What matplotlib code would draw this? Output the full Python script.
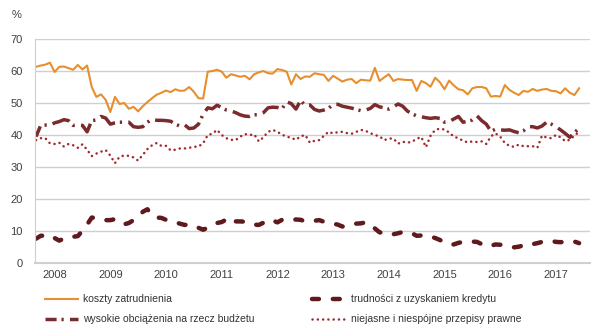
import matplotlib
matplotlib.use("Agg")
from matplotlib import pyplot as plt
import numpy as np

plt.rcParams['font.family'] = ['Liberation Sans', 'DejaVu Sans']
plt.rcParams['lines.scale_dashes'] = False

# monthly survey shares (%), first month of 2008 onwards
years = ['2008', '2009', '2010', '2011', '2012', '2013', '2014', '2015', '2016', '2017']

koszty = [61.3, 61.7, 62.0, 62.6, 59.7, 61.3, 61.4, 60.9, 60.4, 61.9, 60.5, 61.7,
          55.0, 51.9, 52.7, 51.0, 47.2, 51.9, 49.7, 50.0, 48.2, 48.8, 47.4, 49.0,
          50.3, 51.5, 52.6, 53.2, 53.9, 53.4, 54.3, 53.8, 53.9, 55.0, 53.5, 51.5,
          51.4, 59.8, 60.0, 60.4, 59.8, 57.9, 59.0, 58.6, 58.2, 58.5, 57.4, 59.0,
          59.6, 60.0, 59.3, 59.2, 60.6, 60.3, 59.8, 55.8, 59.0, 57.5, 58.3, 58.2,
          59.3, 59.0, 58.8, 56.9, 58.5, 57.6, 56.7, 57.3, 57.5, 56.2, 57.3, 57.1,
          57.0, 61.0, 56.9, 58.0, 59.0, 56.9, 57.5, 57.3, 57.2, 57.2, 53.8, 56.9,
          56.2, 55.1, 57.9, 56.5, 54.3, 57.0, 55.5, 54.3, 54.0, 52.7, 54.6, 55.0,
          55.0, 54.6, 52.0, 52.2, 52.0, 55.6, 54.1, 53.2, 52.5, 53.8, 53.5, 54.4,
          53.8, 54.2, 54.4, 53.8, 53.7, 53.0, 54.6, 53.2, 52.5, 54.6]

obciazenia = [39.5, 43.0, 43.1, 43.0, 43.8, 44.2, 44.8, 44.5, 43.0, 43.1, 43.0, 41.0,
              44.5, 44.7, 45.8, 45.3, 43.4, 43.8, 44.0, 44.0, 44.0, 42.6, 42.4, 42.6,
              44.0, 44.9, 44.6, 44.6, 44.5, 44.3, 43.4, 42.8, 43.2, 42.0, 42.2, 43.4,
              46.5, 48.5, 48.2, 49.3, 48.6, 47.8, 47.5, 47.0, 46.3, 45.9, 45.8, 46.3,
              46.4, 47.0, 48.5, 48.7, 48.6, 48.2, 50.4, 49.8, 48.1, 50.8, 49.2, 49.4,
              48.0, 47.5, 47.8, 48.3, 49.6, 49.6, 49.0, 48.7, 48.4, 48.0, 47.6, 47.8,
              48.3, 49.5, 48.8, 48.5, 48.1, 48.8, 49.7, 49.0, 47.5, 46.6, 46.0, 45.7,
              45.4, 45.2, 45.4, 45.2, 44.0, 44.2, 45.0, 45.8, 44.0, 44.3, 44.7, 46.0,
              44.5, 43.4, 41.2, 41.8, 41.6, 41.5, 41.6, 41.1, 40.7, 41.3, 42.6, 42.6,
              42.2, 42.8, 44.0, 43.4, 42.6, 41.6, 40.5, 39.3, 40.8, 42.1]

kredyt = [7.6, 8.5, 8.6, 7.6, 7.8, 7.0, 7.6, 8.2, 8.2, 8.4, 10.1, 12.0,
          14.2, 14.1, 13.6, 13.4, 13.4, 13.7, 13.2, 12.1, 12.5, 13.4, 14.5, 16.0,
          16.8, 14.8, 14.2, 14.1, 13.5, 13.1, 12.7, 12.3, 11.9, 12.0, 11.8, 11.0,
          10.4, 11.0, 11.9, 12.5, 12.8, 13.6, 14.2, 13.0, 13.0, 12.9, 12.6, 12.0,
          11.9, 12.6, 13.5, 13.3, 12.7, 13.5, 13.6, 13.4, 13.6, 13.5, 13.0, 13.1,
          13.2, 13.4, 12.9, 12.5, 12.3, 12.0, 11.4, 11.6, 12.1, 12.3, 12.4, 12.7,
          12.2, 10.8, 9.6, 9.3, 9.5, 9.0, 9.3, 9.7, 9.7, 9.3, 8.5, 8.6,
          8.7, 8.3, 7.8, 7.2, 6.5, 5.8, 5.8, 6.3, 6.6, 6.7, 6.7, 6.6,
          5.9, 5.2, 5.4, 5.8, 5.7, 5.6, 5.2, 4.9, 5.1, 5.5, 6.1, 5.9,
          6.2, 6.6, 6.8, 6.9, 6.6, 6.5, 6.7, 6.9, 6.7, 6.2]

przepisy = [38.4, 39.0, 39.0, 37.4, 37.2, 37.6, 36.4, 37.2, 36.8, 36.0, 37.1, 35.4,
            33.4, 34.2, 34.8, 35.3, 33.6, 31.2, 33.2, 33.6, 33.5, 33.0, 32.0, 33.8,
            35.6, 36.8, 37.5, 36.6, 36.6, 35.2, 35.4, 35.8, 35.8, 36.0, 36.3, 36.4,
            37.4, 40.0, 40.4, 41.6, 40.0, 39.0, 38.5, 38.4, 39.5, 40.3, 40.0, 40.2,
            38.0, 39.3, 41.0, 41.6, 41.0, 40.1, 39.5, 39.1, 38.5, 39.6, 40.0, 37.6,
            38.2, 38.4, 39.7, 41.0, 40.5, 40.9, 41.0, 40.6, 40.4, 41.0, 41.6, 41.3,
            40.6, 40.0, 39.6, 38.4, 38.9, 38.9, 37.3, 37.9, 37.6, 37.9, 38.8, 39.4,
            36.2, 39.8, 41.6, 42.0, 41.7, 40.8, 39.5, 39.0, 38.2, 37.7, 38.0, 37.8,
            38.0, 37.2, 39.6, 40.5, 39.5, 37.5, 36.6, 36.3, 37.0, 36.5, 36.5, 36.5,
            36.0, 39.8, 39.2, 39.0, 40.0, 39.3, 38.1, 38.5, 39.8, 41.0]

labels = ['koszty zatrudnienia', 'wysokie obciążenia na rzecz budżetu',
          'trudności z uzyskaniem kredytu', 'niejasne i niespójne przepisy prawne']

x = np.arange(len(koszty))

fig = plt.figure(figsize=(5.95, 3.29), dpi=100)
ax = fig.add_axes([0.059, 0.2006, 0.933, 0.6808])

l1, = ax.plot(x, koszty, color='#E68F2E', lw=1.5, solid_joinstyle='round')
l2, = ax.plot(x, obciazenia, color='#7B2B2E', lw=2.5,
              linestyle=(5, (13, 3.5, 1.6, 4.5)), dash_capstyle='butt')
l3, = ax.plot(x, kredyt, color='#5E1A1D', lw=3.2,
              linestyle=(0, (5, 10)), dash_capstyle='round')
l4, = ax.plot(x, przepisy, color='#A3282C', lw=1.8,
              linestyle=(0, (0.1, 3.7)), dash_capstyle='round')

ax.set_ylim(0, 70)
ax.set_xlim(-0.2, 119.4)
ax.set_yticks(range(0, 80, 10))
ax.set_xticks([4 + 12 * k for k in range(len(years))])
ax.set_xticklabels(years)
ax.tick_params(length=0, labelsize=8, colors='#404040', pad=5)
ax.tick_params(axis='y', pad=9)
ax.grid(axis='y', color='#CFCFCF', lw=1)
ax.set_axisbelow(True)
for s in ['top', 'right']:
    ax.spines[s].set_visible(False)
ax.spines['left'].set_color('#CFCFCF')
ax.spines['bottom'].set_color('#CFCFCF')
ax.spines['bottom'].set_linewidth(1.5)

fig.text(0.02, 0.955, '%', fontsize=8, color='#404040', va='center')

leg_kw = dict(frameon=False, fontsize=7.5, handlelength=3.2, handletextpad=0.5,
              labelspacing=0.95, borderaxespad=0, borderpad=0)
leg1 = fig.legend([l1, l2], labels[:2], loc='upper left',
                  bbox_to_anchor=(0.075, 0.105), **leg_kw)
leg2 = fig.legend([l3, l4], labels[2:], loc='upper left',
                  bbox_to_anchor=(0.525, 0.105), **leg_kw)
for lg in (leg1, leg2):
    for t in lg.get_texts():
        t.set_color('#333333')

fig.savefig('out.png', dpi=100)
